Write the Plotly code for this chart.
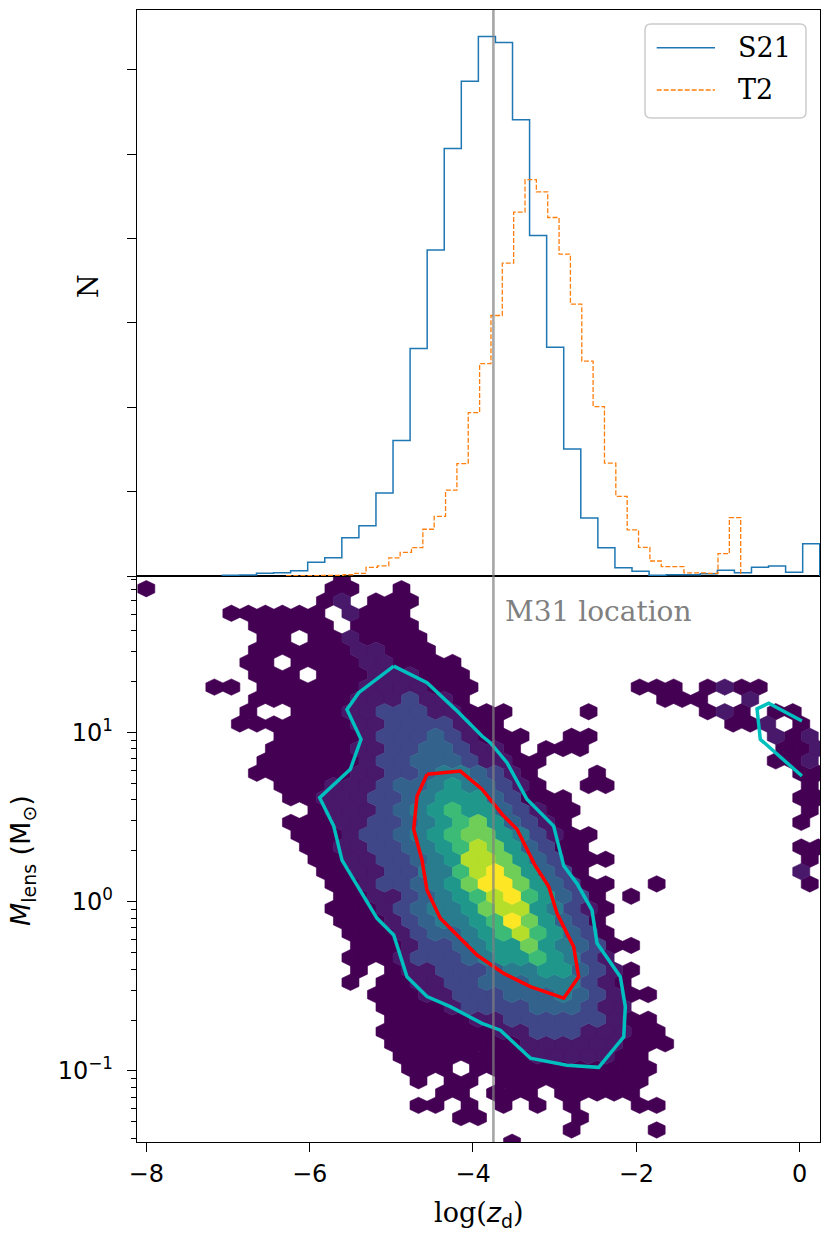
import plotly.graph_objects as go

# ---------------- top panel: histograms (counts, arbitrary units) ----------------
S21_EDGE0 = -7.069
S21_BINW = 0.209
S21_COUNTS = [0.8, 1.2, 3.2, 3.9, 6.3, 16.3, 21.7, 45.4, 59.7, 98.5, 160.5, 269.6,
              386.4, 506.9, 586.4, 639.7, 632.6, 540.9, 403.7, 271.3, 150.7, 68.8,
              33.6, 9.8, 5.6, 0.8, 1.5, 1.5, 2.7, 6.8, 3.9, 10.3, 11.9, 4.4, 38.3]

T2_EDGE0 = -6.282
T2_BINW = 0.139
T2_COUNTS = [0.3, 0.3, 0.5, 0.8, 0.8, 1.5, 3.2, 10.3, 11.9, 21.4, 28.1, 33.6, 55.4,
             70.8, 101.7, 133.2, 193.7, 251.8, 308.8, 370.9, 431.4, 469.8, 455.5,
             425.0, 381.6, 322.3, 254.7, 200.8, 133.7, 94.5, 54.6, 34.0, 17.8, 11.0,
             11.0, 3.6, 3.6, 3.2, 26.5, 69.2]

N_TICKS = [0, 100, 200, 300, 400, 500, 600]

# ---------------- bottom panel: hexbin of log(z_d) vs log10(M_lens) ----------------
HEX_X0 = -8.0        # centre of column 0 (even rows)
HEX_DX = 0.2083      # hex width in log(z_d)
HEX_LOG0 = 1.850     # log10(M) of row 0
HEX_DLOG = 0.0727    # log10(M) step between rows
HEX_LEVELS = ['#440154', '#48186a', '#3f4788', '#33638d', '#287c8e',
              '#1f988b', '#3bbb75', '#6ece58', '#b5de2b', '#fde725']
# (row, first column, density level per cell; '.' = empty)
HEX_SEGMENTS = [
    (-1, 11, "0"),
    (0, 0, "0"), (0, 11, "00..0"),
    (1, 10, "01.000"),
    (2, 5, "000000.1000"),
    (3, 6, "00000.0000"),
    (4, 7, "00.0010000"),
    (5, 6, "00000011000"),
    (6, 6, "00.0000110000"),
    (7, 6, "000.000111000"),
    (8, 4, "00.0000001111000"), (8, 29, "000.0100"),
    (9, 6, "0000001112110"), (9, 30, "000..1"),
    (10, 6, "0..0001122211000"), (10, 26, "0"), (10, 33, "010.00"),
    (11, 5, "0000000112222100"), (11, 34, "001.0"),
    (12, 8, "000001222321000..00"), (12, 37, "101"),
    (13, 7, "000001122332110.000"), (13, 37, "001"),
    (14, 7, "00000012233321100"), (14, 37, "001"),
    (15, 6, "00000011223443210"), (15, 26, "0"), (15, 38, "00"),
    (16, 8, "0001112334543210"), (16, 26, "00"), (16, 39, "0"),
    (17, 8, "00111223455532000"), (17, 38, "00"),
    (18, 10, "0111234565532100"), (18, 39, "0"),
    (19, 8, "00011223456753210"), (19, 38, "0"),
    (20, 9, "000122345677542100"),
    (21, 9, "00112234568753200"), (21, 38, "00"),
    (22, 10, "001122345887532000"), (22, 39, "0"),
    (23, 10, "0011224468975320"), (23, 38, "1"),
    (24, 11, "00122345799753200"), (24, 30, "0"), (24, 39, "0"),
    (25, 11, "0011234568965320.0"),
    (26, 11, "00012344578854210"),
    (27, 11, "0001234456975320"),
    (28, 12, "0001233456865320"),
    (29, 12, "00012234557543200"),
    (30, 12, "0001222345565421"),
    (31, 12, "0.011222344553210"),
    (32, 12, "0.001122333444210"),
    (33, 13, "00011222333432100"),
    (34, 14, "000012222333211"),
    (35, 14, "0000011222222100"),
    (36, 14, "00000001122211100"),
    (37, 14, "00000000111111000"),
    (38, 15, "000000001111100"),
    (39, 15, "000.00000000000"),
    (40, 16, "0.00.000000000"),
    (41, 17, "00.000.00000"),
    (42, 16, "00.0.0.0.0...00"),
    (43, 18, "00"), (43, 25, "0"),
    (44, 25, "0"), (44, 30, "0"),
    (45, 21, "0"),
]

# density contours (log(z_d), M_lens)
CYAN_X = [-4.97, -4.563, -4.216, -3.890, -3.788, -3.583, -3.339, -3.012, -2.889, -2.726,
          -2.543, -2.481, -2.196, -2.135, -2.154, -2.461, -2.849, -3.298, -3.665, -3.890,
          -4.278, -4.563, -4.808, -4.971, -5.175, -5.604, -5.705, -5.877, -5.502, -5.371,
          -5.543, -5.399, -4.97]
CYAN_M = [24.7, 19.7, 13.7, 9.53, 8.70, 6.63, 4.03, 2.80, 1.63, 1.28,
          0.893, 0.568, 0.360, 0.240, 0.159, 0.105, 0.108, 0.119, 0.174, 0.191,
          0.240, 0.275, 0.360, 0.636, 0.798, 1.76, 2.80, 4.12, 6.06, 9.12,
          13.7, 17.2, 24.7]
CYAN2_X = [0.028, -0.379, -0.522, -0.482, 0.028]
CYAN2_M = [11.7, 14.9, 13.8, 9.12, 5.53]
RED_X = [-4.563, -4.155, -3.890, -3.788, -3.624, -3.461, -3.237, -3.073, -2.971, -2.767,
         -2.706, -2.889, -3.298, -3.624, -3.951, -4.175, -4.400, -4.563, -4.624, -4.726,
         -4.685, -4.563]
RED_M = [5.66, 5.92, 4.62, 4.03, 3.21, 2.68, 1.63, 1.23, 0.854, 0.542,
         0.360, 0.269, 0.315, 0.377, 0.484, 0.621, 0.798, 1.17, 1.76, 2.68,
         4.21, 5.66]

M31_LOGZ = -3.75
X_TICKS = [-8, -6, -4, -2, 0]
X_TICKTEXT = ['\u22128', '\u22126', '\u22124', '\u22122', '0']
Y_TICKS = [0.1, 1, 10]
Y_TICKTEXT = ['10<sup>\u22121</sup>', '10<sup>0</sup>', '10<sup>1</sup>']

# ---------------- layout geometry ----------------
W, H = 830, 1246
PL, PR, PT, PB = 137, 820, 10, 1142
XR = [-8.114, 0.249]
YR_LOG = [-1.420, 1.925]
YR_TOP = [0, 671]
SERIF = 'DejaVu Serif'
SANS = 'DejaVu Sans'


def xp(px):
    return (px - PL) / (PR - PL)


def yp(py):
    return (PB - py) / (PB - PT)


def step_xy(edge0, w, counts):
    edges = [edge0 + w * i for i in range(len(counts) + 1)]
    xs = [edges[0]] + edges[:-1] + [edges[-1], edges[-1]]
    ys = [0] + list(counts) + [counts[-1], 0]
    return xs, ys


fig = go.Figure()

# hexbin cells, one trace per colour level
sy = 2 * HEX_DLOG
offs = [(0.5, -1 / 6), (0.5, 1 / 6), (0.0, 1 / 3), (-0.5, 1 / 6), (-0.5, -1 / 6), (0.0, -1 / 3), (0.5, -1 / 6)]
cells = {}
for r, c0, s in HEX_SEGMENTS:
    for k, ch in enumerate(s):
        if ch == '.':
            continue
        cells.setdefault(int(ch), []).append((r, c0 + k))
for lev in sorted(cells):
    xs, ys = [], []
    for r, c in cells[lev]:
        xc = HEX_X0 + HEX_DX * (c + 0.5 * (r % 2))
        lc = HEX_LOG0 - HEX_DLOG * r
        for ox, oy in offs:
            xs.append(xc + ox * HEX_DX)
            ys.append(10 ** (lc + oy * sy))
        xs.append(None)
        ys.append(None)
    col = HEX_LEVELS[lev]
    fig.add_trace(go.Scatter(x=xs, y=ys, mode='lines', fill='toself', fillcolor=col,
                             line=dict(color=col, width=0.6), hoverinfo='skip',
                             showlegend=False, xaxis='x', yaxis='y'))

# contours
fig.add_trace(go.Scatter(x=CYAN_X, y=CYAN_M, mode='lines', line=dict(color='#00bfbf', width=3.5),
                         hoverinfo='skip', showlegend=False, xaxis='x', yaxis='y'))
fig.add_trace(go.Scatter(x=CYAN2_X, y=CYAN2_M, mode='lines', line=dict(color='#00bfbf', width=3.5),
                         hoverinfo='skip', showlegend=False, xaxis='x', yaxis='y'))
fig.add_trace(go.Scatter(x=RED_X, y=RED_M, mode='lines', line=dict(color='#ff0000', width=3.5),
                         hoverinfo='skip', showlegend=False, xaxis='x', yaxis='y'))

# histograms
bx, by = step_xy(S21_EDGE0, S21_BINW, S21_COUNTS)
fig.add_trace(go.Scatter(x=bx, y=by, mode='lines', line=dict(color='#1f77b4', width=1.5, shape='hv'),
                         name='S21', showlegend=False, xaxis='x2', yaxis='y2'))
ox_, oy_ = step_xy(T2_EDGE0, T2_BINW, T2_COUNTS)
fig.add_trace(go.Scatter(x=ox_, y=oy_, mode='lines',
                         line=dict(color='#ff7f0e', width=1.3, shape='hv', dash='5px,2px'),
                         name='T2', showlegend=False, xaxis='x2', yaxis='y2'))

shapes = []
# M31 location line across both panels
shapes.append(dict(type='line', xref='x', yref='paper', x0=M31_LOGZ, x1=M31_LOGZ, y0=0, y1=1,
                   line=dict(color='rgba(128,128,128,0.7)', width=2.6), layer='above'))

# legend box with rounded corners
lx0, lx1 = xp(645), xp(806)
ly0, ly1 = yp(118), yp(24)
rx, ry = 6 / (PR - PL), 6 / (PB - PT)
path = (f"M {lx0 + rx},{ly0} L {lx1 - rx},{ly0} Q {lx1},{ly0} {lx1},{ly0 + ry} "
        f"L {lx1},{ly1 - ry} Q {lx1},{ly1} {lx1 - rx},{ly1} L {lx0 + rx},{ly1} "
        f"Q {lx0},{ly1} {lx0},{ly1 - ry} L {lx0},{ly0 + ry} Q {lx0},{ly0} {lx0 + rx},{ly0} Z")
shapes.append(dict(type='path', xref='paper', yref='paper', path=path,
                   fillcolor='rgba(255,255,255,0.8)', line=dict(color='#cccccc', width=1.5)))
shapes.append(dict(type='line', xref='paper', yref='paper', x0=xp(656.7), x1=xp(715),
                   y0=yp(47.7), y1=yp(47.7), line=dict(color='#1f77b4', width=1.5)))
shapes.append(dict(type='line', xref='paper', yref='paper', x0=xp(656.7), x1=xp(715),
                   y0=yp(90), y1=yp(90), line=dict(color='#ff7f0e', width=1.3, dash='5px,2px')))

annotations = [
    dict(text='S21', xref='paper', yref='paper', x=xp(736), y=yp(47.7), xanchor='left',
         yanchor='middle', showarrow=False, font=dict(family=SERIF, size=27, color='black')),
    dict(text='T2', xref='paper', yref='paper', x=xp(736), y=yp(90), xanchor='left',
         yanchor='middle', showarrow=False, font=dict(family=SERIF, size=27, color='black')),
    dict(text='M31 location', xref='x', yref='y', x=-3.63, y=1.718, xanchor='left',
         yanchor='middle', showarrow=False, font=dict(family=SERIF, size=28, color='#808080')),
    dict(text='N', xref='paper', yref='paper', x=xp(89), y=yp(286), xanchor='center',
         yanchor='middle', textangle=-90, showarrow=False,
         font=dict(family=SERIF, size=27, color='black')),
    dict(text='log(<span style="font-family:DejaVu Sans"><i>z</i><sub>d</sub></span>)',
         xref='paper', yref='paper', x=xp(478), y=yp(1214), xanchor='center', yanchor='middle',
         showarrow=False, font=dict(family=SERIF, size=27, color='black')),
    dict(text='<i>M</i><sub>lens</sub> (M<sub>\u2299</sub>)', xref='paper', yref='paper',
         x=xp(22), y=yp(861), xanchor='center', yanchor='middle', textangle=-90,
         showarrow=False, font=dict(family=SANS, size=27, color='black')),
]

minor_vals = []
for dec in [0.01, 0.1, 1, 10]:
    for m in range(2, 10):
        minor_vals.append(m * dec)

axis_common = dict(showline=True, mirror=True, linecolor='black', linewidth=1.3,
                   showgrid=False, zeroline=False, automargin=False)

fig.update_layout(
    width=W, height=H,
    margin=dict(l=PL, r=W - PR, t=PT, b=H - PB, pad=0),
    paper_bgcolor='white', plot_bgcolor='white',
    showlegend=False,
    xaxis=dict(domain=[0, 1], anchor='y', range=XR, tickmode='array', tickvals=X_TICKS,
               ticktext=X_TICKTEXT, ticks='outside', ticklen=9, tickwidth=1.3, tickcolor='black',
               tickfont=dict(family=SANS, size=24, color='black'), ticklabelstandoff=1,
               **axis_common),
    yaxis=dict(domain=[0, 0.5], anchor='x', type='log', range=YR_LOG, tickmode='array',
               tickvals=Y_TICKS, ticktext=Y_TICKTEXT, ticks='outside', ticklen=9, tickwidth=1.3,
               tickcolor='black', tickfont=dict(family=SANS, size=24, color='black'),
               ticklabelstandoff=9,
               minor=dict(tickvals=minor_vals, ticks='outside', ticklen=5, tickwidth=1,
                          tickcolor='black'),
               **axis_common),
    xaxis2=dict(domain=[0, 1], anchor='y2', range=XR, matches='x', showticklabels=False,
                ticks='', **axis_common),
    yaxis2=dict(domain=[0.5, 1], anchor='x2', range=YR_TOP, tickmode='array', tickvals=N_TICKS,
                showticklabels=False, ticks='outside', ticklen=9, tickwidth=1.3,
                tickcolor='black', **axis_common),
    shapes=shapes,
    annotations=annotations,
)

fig.write_html("out.html", config={'displayModeBar': False},
               post_script="document.body.style.margin='0px';")
